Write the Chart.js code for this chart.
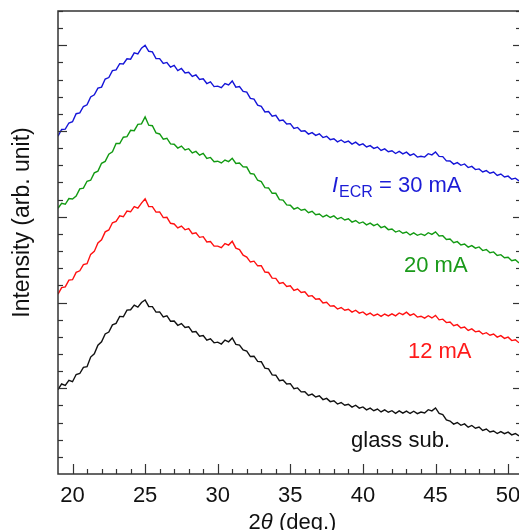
<!DOCTYPE html>
<html>
<head>
<meta charset="utf-8">
<script src="https://cdn.jsdelivr.net/npm/chart.js@4/dist/chart.umd.min.js"></script>
<style>
  html, body { margin: 0; padding: 0; background: #fff; }
  #c { display: block; }
</style>
</head>
<body>
<canvas id="c" width="519" height="530"></canvas>
<script>
// 2theta sampling (deg.)
const ANGLE = [
  19, 19.25, 19.5, 19.75, 20, 20.25, 20.5, 20.75, 21, 21.25, 21.5, 21.75, 22, 22.25, 22.5, 22.75,
  23, 23.25, 23.5, 23.75, 24, 24.25, 24.5, 24.75, 25, 25.25, 25.5, 25.75, 26, 26.25, 26.5, 26.75,
  27, 27.25, 27.5, 27.75, 28, 28.25, 28.5, 28.75, 29, 29.25, 29.5, 29.75, 30, 30.25, 30.5, 30.75,
  31, 31.25, 31.5, 31.75, 32, 32.25, 32.5, 32.75, 33, 33.25, 33.5, 33.75, 34, 34.25, 34.5, 34.75,
  35, 35.25, 35.5, 35.75, 36, 36.25, 36.5, 36.75, 37, 37.25, 37.5, 37.75, 38, 38.25, 38.5, 38.75,
  39, 39.25, 39.5, 39.75, 40, 40.25, 40.5, 40.75, 41, 41.25, 41.5, 41.75, 42, 42.25, 42.5, 42.75,
  43, 43.25, 43.5, 43.75, 44, 44.25, 44.5, 44.75, 45, 45.25, 45.5, 45.75, 46, 46.25, 46.5, 46.75,
  47, 47.25, 47.5, 47.75, 48, 48.25, 48.5, 48.75, 49, 49.25, 49.5, 49.75, 50, 50.25, 50.5, 50.75
];

// intensity, arb. unit (curves offset vertically as in the figure)
const I_30MA = [
  19.70, 20.09, 20.11, 20.47, 20.54, 21.01, 21.06, 21.43, 21.53, 21.99, 22.11, 22.50, 22.56, 23.03, 23.12, 23.52,
  23.57, 23.93, 23.91, 24.21, 24.19, 24.56, 24.50, 24.83, 25.00, 24.65, 24.62, 24.23, 24.22, 23.94, 24.00, 23.73,
  23.83, 23.52, 23.65, 23.39, 23.43, 23.18, 23.27, 23.01, 23.05, 22.77, 22.87, 22.59, 22.62, 22.53, 22.77, 22.69,
  22.92, 22.56, 22.59, 22.31, 22.27, 21.90, 21.86, 21.51, 21.44, 21.11, 21.14, 20.87, 20.92, 20.60, 20.64, 20.41,
  20.43, 20.15, 20.21, 19.99, 20.02, 19.82, 19.91, 19.75, 19.84, 19.62, 19.69, 19.50, 19.55, 19.37, 19.48, 19.33,
  19.41, 19.24, 19.35, 19.18, 19.25, 19.07, 19.15, 18.99, 19.07, 18.87, 18.96, 18.79, 18.85, 18.69, 18.81, 18.67,
  18.77, 18.58, 18.67, 18.48, 18.53, 18.48, 18.68, 18.61, 18.78, 18.52, 18.51, 18.26, 18.25, 18.07, 18.16, 18.00,
  18.08, 17.87, 17.94, 17.75, 17.79, 17.61, 17.69, 17.54, 17.61, 17.41, 17.49, 17.32, 17.37, 17.19, 17.25, 17.09
];
const I_20MA = [
  15.50, 15.78, 15.73, 16.06, 16.04, 16.21, 16.63, 16.67, 17.07, 17.13, 17.56, 17.66, 18.12, 18.23, 18.65, 18.79,
  19.28, 19.27, 19.64, 19.67, 20.04, 20.02, 20.39, 20.42, 20.82, 20.34, 20.31, 19.89, 19.83, 19.52, 19.58, 19.25,
  19.23, 19.01, 19.12, 18.90, 18.97, 18.72, 18.81, 18.59, 18.70, 18.40, 18.46, 18.21, 18.24, 18.14, 18.31, 18.22,
  18.41, 18.11, 18.14, 17.91, 17.90, 17.52, 17.49, 17.13, 17.05, 16.70, 16.68, 16.37, 16.37, 16.00, 15.97, 15.69,
  15.67, 15.45, 15.54, 15.38, 15.44, 15.24, 15.32, 15.12, 15.16, 14.99, 15.10, 14.96, 15.05, 14.87, 14.96, 14.81,
  14.88, 14.69, 14.78, 14.62, 14.70, 14.53, 14.63, 14.48, 14.58, 14.37, 14.44, 14.25, 14.29, 14.11, 14.19, 14.04,
  14.11, 13.94, 14.06, 13.92, 14.00, 13.91, 14.07, 13.97, 14.12, 13.88, 13.90, 13.68, 13.70, 13.49, 13.55, 13.36,
  13.41, 13.23, 13.32, 13.17, 13.24, 13.03, 13.09, 12.90, 12.95, 12.74, 12.79, 12.61, 12.64, 12.44, 12.49, 12.31
];
const I_12MA = [
  10.48, 10.87, 10.91, 11.31, 11.33, 11.76, 11.85, 12.21, 12.26, 12.81, 12.98, 13.47, 13.66, 14.12, 14.23, 14.65,
  14.73, 15.06, 15.00, 15.33, 15.29, 15.59, 15.50, 15.80, 16.05, 15.60, 15.59, 15.27, 15.28, 14.95, 14.97, 14.62,
  14.58, 14.35, 14.46, 14.24, 14.31, 14.01, 14.06, 13.80, 13.84, 13.53, 13.56, 13.29, 13.29, 13.20, 13.44, 13.35,
  13.57, 13.17, 13.09, 12.76, 12.65, 12.36, 12.41, 12.14, 12.15, 11.78, 11.75, 11.42, 11.41, 11.11, 11.16, 10.94,
  10.98, 10.71, 10.79, 10.59, 10.63, 10.37, 10.40, 10.19, 10.22, 9.97, 10.01, 9.79, 9.81, 9.62, 9.71, 9.55,
  9.61, 9.44, 9.55, 9.38, 9.45, 9.28, 9.38, 9.23, 9.33, 9.19, 9.33, 9.22, 9.34, 9.22, 9.39, 9.29,
  9.44, 9.25, 9.34, 9.15, 9.20, 9.09, 9.23, 9.10, 9.25, 8.99, 9.03, 8.83, 8.86, 8.65, 8.71, 8.52,
  8.57, 8.37, 8.46, 8.29, 8.34, 8.16, 8.24, 8.09, 8.16, 7.98, 8.07, 7.91, 7.98, 7.78, 7.83, 7.65
];
const I_GLASS = [
  4.92, 5.25, 5.17, 5.46, 5.38, 5.80, 5.86, 6.22, 6.26, 6.82, 7.01, 7.51, 7.71, 8.17, 8.28, 8.70,
  8.78, 9.19, 9.17, 9.56, 9.58, 9.85, 9.73, 10.00, 10.15, 9.77, 9.76, 9.44, 9.45, 9.16, 9.23, 8.91,
  8.92, 8.67, 8.77, 8.54, 8.59, 8.28, 8.31, 8.04, 8.07, 7.80, 7.88, 7.65, 7.69, 7.58, 7.81, 7.71,
  7.93, 7.56, 7.52, 7.24, 7.17, 6.85, 6.87, 6.57, 6.55, 6.17, 6.13, 5.78, 5.76, 5.44, 5.48, 5.25,
  5.27, 4.97, 5.02, 4.79, 4.80, 4.58, 4.66, 4.49, 4.56, 4.34, 4.41, 4.22, 4.27, 4.08, 4.17, 4.01,
  4.07, 3.90, 4.01, 3.84, 3.91, 3.74, 3.84, 3.69, 3.79, 3.62, 3.74, 3.60, 3.69, 3.54, 3.68, 3.55,
  3.67, 3.53, 3.66, 3.52, 3.61, 3.56, 3.75, 3.68, 3.85, 3.53, 3.46, 3.16, 3.09, 2.91, 3.00, 2.84,
  2.92, 2.73, 2.83, 2.67, 2.74, 2.54, 2.62, 2.45, 2.51, 2.36, 2.47, 2.35, 2.44, 2.28, 2.36, 2.22
];

const X_TICKS = [20, 25, 30, 35, 40, 45, 50];

const FONT = "'Liberation Sans', Arial, sans-serif";
const AXIS = '#333';

// curve labels, anchored in data coordinates (left edge, baseline)
const LABELS = [
  { x: 37.87, y: 16.44, color: '#1c1cd6', parts: [['I', 'italic', 22, 0], ['ECR', '', 16, 5], [' = 30 mA', '', 22, 0]] },
  { x: 42.83, y: 11.78, color: '#1a9a1a', parts: [['20 mA', '', 22, 0]] },
  { x: 43.10, y: 6.76, color: '#ff1a1a', parts: [['12 mA', '', 22, 0]] },
  { x: 39.18, y: 1.57, color: '#111', parts: [['glass sub.', '', 22, 0]] },
];

const series = [
  { data: I_30MA, color: '#1515d8' },
  { data: I_20MA, color: '#129a12' },
  { data: I_12MA, color: '#ff1010' },
  { data: I_GLASS, color: '#111111' },
];

function line(ctx, x1, y1, x2, y2) {
  ctx.beginPath(); ctx.moveTo(x1, y1); ctx.lineTo(x2, y2); ctx.stroke();
}

const framePlugin = {
  id: 'frame',
  afterDraw(chart) {
    const { ctx, chartArea: a, scales: { x, y } } = chart;
    ctx.save();
    ctx.strokeStyle = AXIS;
    ctx.lineWidth = 1.5;
    // box (right side sits just past the canvas edge)
    ctx.strokeRect(a.left, a.top, a.right - a.left + 2, a.bottom - a.top);

    // bottom ticks, inward
    ctx.lineWidth = 1.2;
    for (let v = 20; v <= 50; v++) {
      const px = Math.round(x.getPixelForValue(v)) + 0.5;
      line(ctx, px, a.bottom, px, a.bottom - (v % 5 === 0 ? 10 : 5));
    }
    // left / right ticks, inward
    for (let v = 1; v <= 27; v++) {
      const py = Math.round(y.getPixelForValue(v)) + 0.5;
      const major = v % 5 === 0;
      line(ctx, a.left, py, a.left + (major ? 9 : 5), py);
      line(ctx, a.right, py, a.right - (major ? 6 : 3), py);
    }

    // tick labels
    ctx.fillStyle = '#111';
    ctx.font = `22px ${FONT}`;
    ctx.textAlign = 'center';
    ctx.textBaseline = 'alphabetic';
    X_TICKS.forEach(v => ctx.fillText(String(v), x.getPixelForValue(v), a.bottom + 28));

    // x title: 2θ (deg.)
    const xc = (a.left + a.right) / 2 + 4;
    const parts = [['2', ''], ['θ', 'italic '], [' (deg.)', '']];
    let w = 0;
    parts.forEach(([t, st]) => { ctx.font = `${st}22px ${FONT}`; w += ctx.measureText(t).width; });
    let cx = xc - w / 2;
    ctx.textAlign = 'left';
    parts.forEach(([t, st]) => {
      ctx.font = `${st}22px ${FONT}`;
      ctx.fillText(t, cx, a.bottom + 55);
      cx += ctx.measureText(t).width;
    });

    // y title
    ctx.save();
    ctx.translate(29, (a.top + a.bottom) / 2 - 20);
    ctx.rotate(-Math.PI / 2);
    ctx.textAlign = 'center';
    ctx.font = `23px ${FONT}`;
    ctx.fillText('Intensity (arb. unit)', 0, 0);
    ctx.restore();

    // curve labels
    LABELS.forEach(l => {
      let px = x.getPixelForValue(l.x);
      const py = y.getPixelForValue(l.y);
      ctx.fillStyle = l.color;
      l.parts.forEach(([t, st, size, dy]) => {
        ctx.font = `${st ? st + ' ' : ''}${size}px ${FONT}`;
        ctx.fillText(t, px, py + dy);
        px += ctx.measureText(t).width + (st === 'italic' ? 1 : 0);
      });
    });
    ctx.restore();
  }
};

new Chart(document.getElementById('c'), {
  type: 'line',
  data: {
    datasets: series.map(s => ({
      data: ANGLE.map((a, i) => ({ x: a, y: s.data[i] })),
      borderColor: s.color,
      borderWidth: 1.4,
      pointRadius: 0,
      tension: 0,
      fill: false,
    })),
  },
  options: {
    responsive: false,
    animation: false,
    devicePixelRatio: 1,
    layout: { padding: { left: 58, top: 11, right: 0, bottom: 56 } },
    plugins: { legend: { display: false }, tooltip: { enabled: false } },
    scales: {
      x: { type: 'linear', min: 19, max: 50.75, display: false },
      y: { type: 'linear', min: 0, max: 27, display: false },
    },
  },
  plugins: [framePlugin],
});
</script>
</body>
</html>
